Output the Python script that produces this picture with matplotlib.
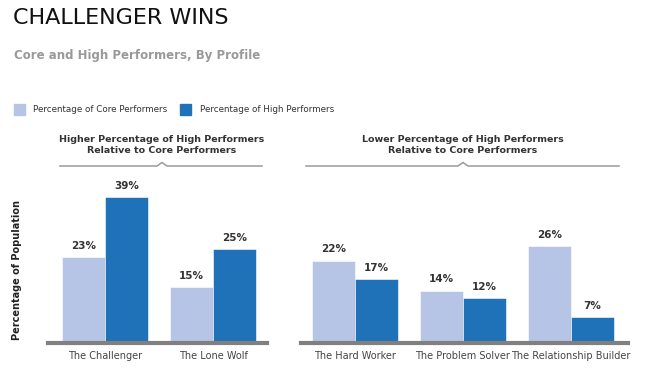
import matplotlib
matplotlib.use("Agg")
import matplotlib.pyplot as plt
from matplotlib.lines import Line2D
from matplotlib.patches import Rectangle

# data
left_profiles = ["The Challenger", "The Lone Wolf"]
left_core = [23, 15]
left_high = [39, 25]

right_profiles = ["The Hard Worker", "The Problem Solver", "The Relationship Builder"]
right_core = [22, 14, 26]
right_high = [17, 12, 7]

series_names = ["Percentage of Core Performers", "Percentage of High Performers"]
light = "#b6c5e5"
dark = "#1f72b7"
W, H = 650, 380

plt.rcParams['font.family'] = ['DejaVu Sans']
fig = plt.figure(figsize=(6.5, 3.8), dpi=100)


def fx(px):
    return px / W


def fy(py):
    return 1 - py / H


def panel(left_px, right_px, xlim, names, core, high):
    ax = fig.add_axes([fx(left_px), fy(343), fx(right_px - left_px), 45 * 3.75 / H])
    xs = range(len(names))
    bw = 0.4
    ax.bar([x - bw / 2 for x in xs], core, width=bw, color=light, edgecolor='white', linewidth=0.4)
    ax.bar([x + bw / 2 for x in xs], high, width=bw, color=dark, edgecolor='white', linewidth=0.4)
    for x, c, h in zip(xs, core, high):
        ax.text(x - bw / 2, c + 1.6, f"{c}%", ha='center', va='bottom', fontsize=7.5,
                fontweight='bold', color='#333333')
        ax.text(x + bw / 2, h + 1.6, f"{h}%", ha='center', va='bottom', fontsize=7.5,
                fontweight='bold', color='#333333')
    ax.set_xlim(*xlim)
    ax.set_ylim(0, 45)
    ax.set_xticks(list(xs))
    ax.set_xticklabels(names, fontsize=7, color='#444444')
    ax.tick_params(axis='x', length=0, pad=6)
    ax.set_yticks([])
    for s in ['top', 'right', 'left']:
        ax.spines[s].set_visible(False)
    ax.spines['bottom'].set_color('#808080')
    ax.spines['bottom'].set_linewidth(3)
    return ax


ax1 = panel(48, 267, (-0.53, 1.5), left_profiles, left_core, left_high)
ax2 = panel(301, 628, (-0.5, 2.53), right_profiles, right_core, right_high)

ax1.set_ylabel("Percentage of Population", fontsize=7, fontweight='bold', color='#222222', labelpad=0)
ax1.yaxis.set_label_coords((22 - 48) / 219, (343 - 270) / (45 * 3.75))


def bracket(x0, x1, xc, y, text):
    xs = [x0, xc - 5, xc, xc + 5, x1]
    ys = [y, y, y - 3.5, y, y]
    fig.add_artist(Line2D([fx(v) for v in xs], [fy(v) for v in ys], color='#9a9a9a', lw=1.1))
    fig.text(fx(xc), fy(145), text, ha='center', va='center', fontsize=6.8,
             fontweight='bold', color='#333333', linespacing=1.35)


bracket(60, 262, 162, 166, "Higher Percentage of High Performers\nRelative to Core Performers")
bracket(306, 619, 463, 166, "Lower Percentage of High Performers\nRelative to Core Performers")

# titles
fig.text(fx(13), fy(18), "CHALLENGER WINS", ha='left', va='center', fontsize=16,
         color='#111111')
fig.text(fx(14), fy(56), "Core and High Performers, By Profile", ha='left', va='center',
         fontsize=8.5, fontweight='bold', color='#999999')

# legend
for sx, tx, col, name in [(14, 33, light, series_names[0]), (180, 200, dark, series_names[1])]:
    fig.add_artist(Rectangle((fx(sx), fy(115)), fx(11), 11 / H, color=col))
    fig.text(fx(tx), fy(110), name, ha='left', va='center', fontsize=6.3, color='#333333')

fig.savefig("out.png", dpi=100)
